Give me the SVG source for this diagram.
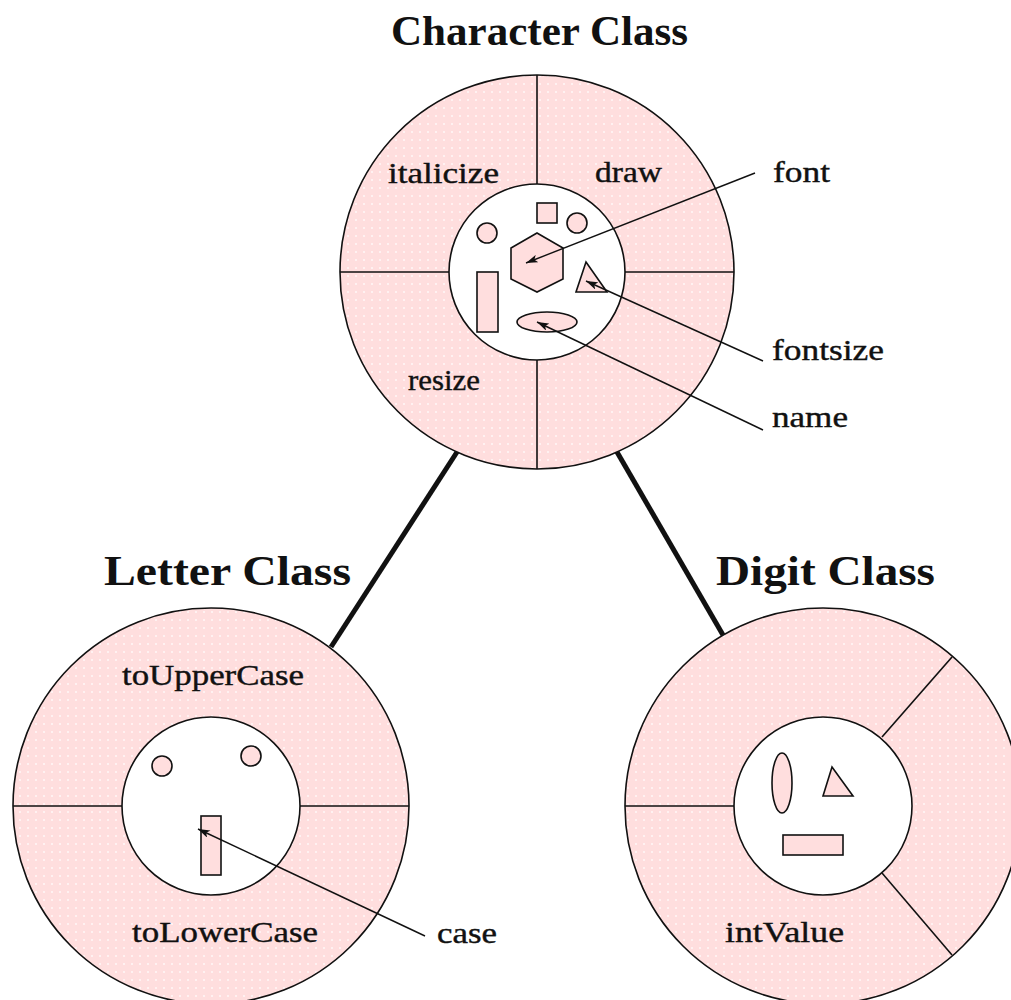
<svg xmlns="http://www.w3.org/2000/svg" width="1011" height="1000" viewBox="0 0 1011 1000">
  <defs>
    <!-- stippled pink fill for the method rings -->
    <pattern id="stipple" width="8" height="8" patternUnits="userSpaceOnUse">
      <rect width="8" height="8" fill="#ffdede"/>
      <circle cx="4" cy="4" r="1" fill="#ffffff" opacity="0.75"/>
    </pattern>
    <marker id="head" viewBox="0 0 12 8" markerWidth="12" markerHeight="8" refX="12" refY="4" orient="auto" markerUnits="userSpaceOnUse">
      <path d="M0,0 L12,4 L0,8 L3,4 z" fill="#111"/>
    </marker>
    <style>
      .ring { fill: url(#stipple); stroke: #111; stroke-width: 1.6; }
      .core { fill: #ffffff; stroke: #111; stroke-width: 1.6; }
      .div { stroke: #111; stroke-width: 1.6; fill: none; }
      .part { fill: #ffdede; stroke: #111; stroke-width: 1.6; }
      .lbl { font-family: "Liberation Serif", "Times New Roman", serif; font-size: 29px; fill: #111; stroke: #111; stroke-width: 0.4; }
      .ttl { font-family: "Liberation Serif", "Times New Roman", serif; font-size: 42px; font-weight: bold; fill: #111; }
      .link { stroke: #111; stroke-width: 5; fill: none; }
      .ptr { stroke: #111; stroke-width: 1.4; fill: none; marker-end: url(#head); }
    </style>
  </defs>

  <rect width="1011" height="1000" fill="#ffffff"/>

  <!-- Character class -->
  <g id="character-class">
    <text class="ttl" x="391" y="45" textLength="297" lengthAdjust="spacingAndGlyphs">Character Class</text>
    <circle class="ring" cx="537" cy="272" r="197"/>
    <line class="div" x1="537" y1="75" x2="537" y2="184"/>
    <line class="div" x1="537" y1="360" x2="537" y2="469"/>
    <line class="div" x1="340" y1="272" x2="449" y2="272"/>
    <line class="div" x1="625" y1="272" x2="734" y2="272"/>
    <circle class="core" cx="537" cy="272" r="88"/>
    <rect class="part" x="537" y="203" width="20" height="20"/>
    <circle class="part" cx="487" cy="233" r="10"/>
    <circle class="part" cx="577" cy="223" r="10"/>
    <polygon class="part" points="537,233 563,248 563,279 537,292 511,279 511,248"/>
    <rect class="part" x="477" y="272" width="21" height="60"/>
    <polygon class="part" points="586,262 607,292 576,292"/>
    <ellipse class="part" cx="547" cy="322" rx="30" ry="10"/>
    <text class="lbl" x="388" y="183" textLength="111" lengthAdjust="spacingAndGlyphs">italicize</text>
    <text class="lbl" x="595" y="182" textLength="67" lengthAdjust="spacingAndGlyphs">draw</text>
    <text class="lbl" x="408" y="390" textLength="72" lengthAdjust="spacingAndGlyphs">resize</text>
    <text class="lbl" x="773" y="182" textLength="57" lengthAdjust="spacingAndGlyphs">font</text>
    <text class="lbl" x="772" y="360" textLength="112" lengthAdjust="spacingAndGlyphs">fontsize</text>
    <text class="lbl" x="772" y="427" textLength="76" lengthAdjust="spacingAndGlyphs">name</text>
  </g>

  <!-- Letter class -->
  <g id="letter-class">
    <text class="ttl" x="104" y="585" textLength="247" lengthAdjust="spacingAndGlyphs">Letter Class</text>
    <circle class="ring" cx="211" cy="806" r="198"/>
    <line class="div" x1="13" y1="806" x2="122" y2="806"/>
    <line class="div" x1="300" y1="806" x2="409" y2="806"/>
    <circle class="core" cx="211" cy="806" r="89"/>
    <circle class="part" cx="162" cy="766" r="10"/>
    <circle class="part" cx="251" cy="756" r="10"/>
    <rect class="part" x="201" y="816" width="20" height="59"/>
    <text class="lbl" x="122" y="685" textLength="182" lengthAdjust="spacingAndGlyphs">toUpperCase</text>
    <text class="lbl" x="132" y="942" textLength="186" lengthAdjust="spacingAndGlyphs">toLowerCase</text>
    <text class="lbl" x="437" y="943" textLength="60" lengthAdjust="spacingAndGlyphs">case</text>
  </g>

  <!-- Digit class -->
  <g id="digit-class">
    <text class="ttl" x="716" y="585" textLength="219" lengthAdjust="spacingAndGlyphs">Digit Class</text>
    <circle class="ring" cx="823" cy="806" r="198"/>
    <line class="div" x1="625" y1="806" x2="734" y2="806"/>
    <line class="div" x1="882" y1="737" x2="952" y2="657"/>
    <line class="div" x1="882" y1="873" x2="952" y2="955"/>
    <circle class="core" cx="823" cy="806" r="89"/>
    <ellipse class="part" cx="782" cy="783" rx="10" ry="30"/>
    <polygon class="part" points="832,767 853,796 823,796"/>
    <rect class="part" x="783" y="835" width="60" height="20"/>
    <text class="lbl" x="725" y="942" textLength="119" lengthAdjust="spacingAndGlyphs">intValue</text>
  </g>

  <!-- inheritance links and attribute pointers, drawn over the rings -->
  <g id="connectors">
    <line class="link" x1="457" y1="452" x2="331" y2="647"/>
    <line class="link" x1="617" y1="452" x2="723" y2="635"/>
    <line class="ptr" x1="755" y1="173" x2="526" y2="263"/>
    <line class="ptr" x1="763" y1="361" x2="586" y2="281"/>
    <line class="ptr" x1="763" y1="430" x2="537" y2="322"/>
    <line class="ptr" x1="425" y1="936" x2="198" y2="829"/>
  </g>
</svg>
